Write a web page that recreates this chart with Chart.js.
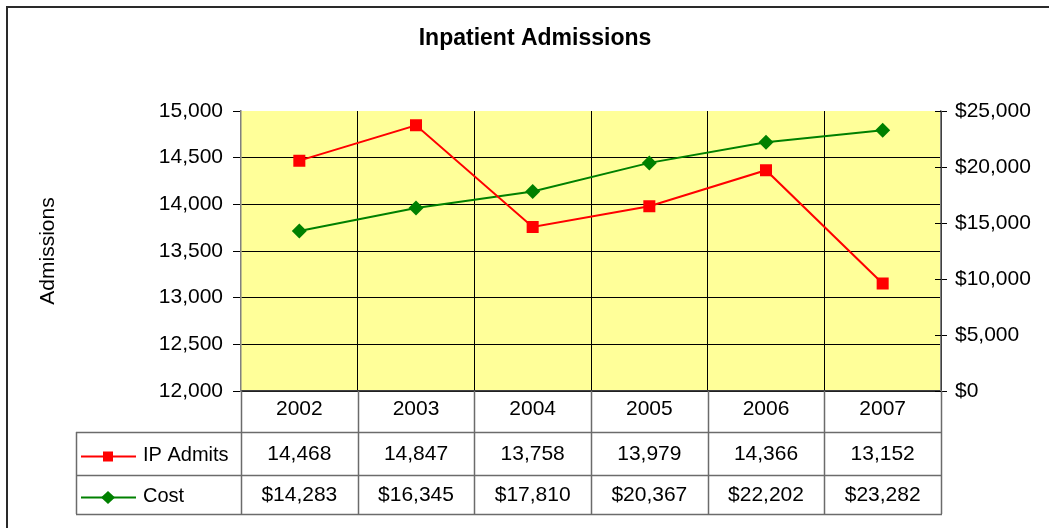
<!DOCTYPE html>
<html lang="en">
<head>
  <meta charset="UTF-8">
  <title>Inpatient Admissions</title>
  <script src="https://cdn.jsdelivr.net/npm/chart.js"></script>
  <style>
    body {
      margin: 0;
      background: white;
      overflow: hidden;
    }

    .frame {
      position: absolute;
      left: 6px;
      top: 6px;
      width: 1100px;
      height: 600px;
      border: 2px solid #2a2a2a;
    }

    canvas {
      position: absolute;
      left: 0;
      top: 0;
    }
  </style>
</head>
<body>

  <div class="frame"></div>
  <canvas id="admitsChart" width="1049" height="528"></canvas>

  <script>
    const years = ['2002', '2003', '2004', '2005', '2006', '2007'];
    const ipAdmits = [14468, 14847, 13758, 13979, 14366, 13152];
    const cost = [14283, 16345, 17810, 20367, 22202, 23282];

    const admitsMin = 12000, admitsMax = 15000, admitsStep = 500;
    const costMin = 0, costMax = 25000, costStep = 5000;

    const FONT = '"Liberation Sans", Arial, sans-serif';
    const fmtAdmits = v => v.toLocaleString('en-US');
    const fmtCost = v => '$' + v.toLocaleString('en-US');

    // yellow plot area + the data table under the x axis
    const tablePlugin = {
      id: 'dataTable',
      beforeDraw(chart) {
        const { ctx, chartArea: a } = chart;
        ctx.save();
        ctx.fillStyle = '#FFFF99';
        ctx.fillRect(a.left, a.top, a.right - a.left, a.bottom - a.top);
        ctx.restore();
      },
      afterDraw(chart) {
        const { ctx, chartArea: a, scales } = chart;
        const xs = scales.x, y1 = scales.y1;
        const half = (xs.getPixelForValue(1) - xs.getPixelForValue(0)) / 2;
        const r1 = a.bottom + 41, r2 = a.bottom + 84, r3 = a.bottom + 123;
        const tl = a.left - 165;

        ctx.save();
        // table lines
        ctx.strokeStyle = '#6b6b6b';
        ctx.lineWidth = 1.5;
        ctx.beginPath();
        years.forEach((_, i) => {
          const x = Math.round(xs.getPixelForValue(i) - half) + 0.5;
          ctx.moveTo(x, a.bottom);
          ctx.lineTo(x, r3);
        });
        ctx.moveTo(a.right + 0.5, a.bottom);
        ctx.lineTo(a.right + 0.5, r3);
        ctx.moveTo(tl + 0.5, r1);
        ctx.lineTo(tl + 0.5, r3);
        [r1, r2, r3].forEach(y => {
          ctx.moveTo(tl, y + 0.5);
          ctx.lineTo(a.right + 1, y + 0.5);
        });
        ctx.stroke();

        // inner half of the right axis tick marks
        ctx.strokeStyle = '#000';
        ctx.lineWidth = 1;
        ctx.beginPath();
        y1.ticks.forEach(t => {
          const y = Math.round(y1.getPixelForValue(t.value)) + 0.5;
          ctx.moveTo(a.right - 6, y);
          ctx.lineTo(a.right, y);
        });
        ctx.stroke();

        // rows: legend key + values
        const rows = [
          { ds: chart.data.datasets[0], values: ipAdmits, fmt: fmtAdmits, mid: (r1 + r2) / 2 },
          { ds: chart.data.datasets[1], values: cost, fmt: fmtCost, mid: (r2 + r3) / 2 }
        ];
        rows.forEach(row => {
          const ky = row.mid + 3;
          ctx.strokeStyle = row.ds.borderColor;
          ctx.fillStyle = row.ds.borderColor;
          ctx.lineWidth = 2;
          ctx.beginPath();
          ctx.moveTo(tl + 5, ky);
          ctx.lineTo(tl + 60, ky);
          ctx.stroke();
          const kx = tl + 32;
          if (row.ds.pointStyle === 'rect') {
            ctx.fillRect(kx - 5, ky - 5, 10, 10);
          } else {
            ctx.beginPath();
            ctx.moveTo(kx - 7, ky);
            ctx.lineTo(kx, ky - 6.5);
            ctx.lineTo(kx + 7, ky);
            ctx.lineTo(kx, ky + 6.5);
            ctx.closePath();
            ctx.fill();
          }

          ctx.fillStyle = '#000';
          ctx.textBaseline = 'middle';
          ctx.textAlign = 'left';
          ctx.font = '20px ' + FONT;
          ctx.fillText(row.ds.label, tl + 67, row.mid + 1.5);
          ctx.font = '21px ' + FONT;
          ctx.textAlign = 'center';
          row.values.forEach((v, i) => {
            ctx.fillText(row.fmt(v), xs.getPixelForValue(i), row.mid + 1);
          });
        });
        ctx.restore();
      }
    };

    const ctx = document.getElementById('admitsChart').getContext('2d');

    new Chart(ctx, {
      type: 'line',
      data: {
        labels: years,
        datasets: [
          {
            label: 'IP Admits',
            data: ipAdmits,
            yAxisID: 'y',
            borderColor: '#FF0000',
            backgroundColor: '#FF0000',
            borderWidth: 2,
            pointStyle: 'rect',
            pointRadius: 8.5,
            pointBorderWidth: 0,
            tension: 0
          },
          {
            label: 'Cost',
            data: cost,
            yAxisID: 'y1',
            borderColor: '#008000',
            backgroundColor: '#008000',
            borderWidth: 2,
            pointStyle: 'rectRot',
            pointRadius: 7.5,
            pointBorderWidth: 0,
            tension: 0
          }
        ]
      },
      options: {
        responsive: false,
        animation: false,
        layout: { padding: { left: 21, right: 0, top: 0, bottom: 0 } },
        plugins: {
          legend: { display: false },
          tooltip: { enabled: false },
          title: {
            display: true,
            text: 'Inpatient Admissions',
            color: '#000',
            font: { family: FONT, size: 23, weight: 'bold' },
            padding: { top: 24.5, bottom: 58.9 }
          }
        },
        scales: {
          x: {
            offset: true,
            grid: { offset: true, color: '#000', lineWidth: 1, drawTicks: false },
            border: { display: true, color: '#404040', width: 1.5 },
            ticks: { color: '#000', font: { family: FONT, size: 21 }, padding: 6 },
            afterFit: s => { s.height = 137; }
          },
          y: {
            position: 'left',
            min: admitsMin,
            max: admitsMax,
            ticks: {
              stepSize: admitsStep,
              color: '#000',
              font: { family: FONT, size: 21 },
              padding: 10,
              callback: v => fmtAdmits(v)
            },
            grid: {
              color: c => (c.tick && c.tick.value === admitsMax) ? 'rgba(0,0,0,0)' : '#000',
              tickColor: '#000',
              tickLength: 8,
              lineWidth: 1
            },
            border: { display: true, color: '#808080', width: 1.5 },
            title: {
              display: true,
              text: 'Admissions',
              color: '#000',
              font: { family: FONT, size: 21 },
              padding: { top: 15, bottom: 0 }
            },
            afterFit: s => { s.width = 220; }
          },
          y1: {
            position: 'right',
            min: costMin,
            max: costMax,
            ticks: {
              stepSize: costStep,
              color: '#000',
              font: { family: FONT, size: 21 },
              padding: 8,
              callback: v => fmtCost(v)
            },
            grid: { drawOnChartArea: false, tickColor: '#000', tickLength: 6 },
            border: { display: true, color: '#808080', width: 1.5 },
            afterFit: s => { s.width = 108; }
          }
        }
      },
      plugins: [tablePlugin]
    });
  </script>

</body>
</html>
